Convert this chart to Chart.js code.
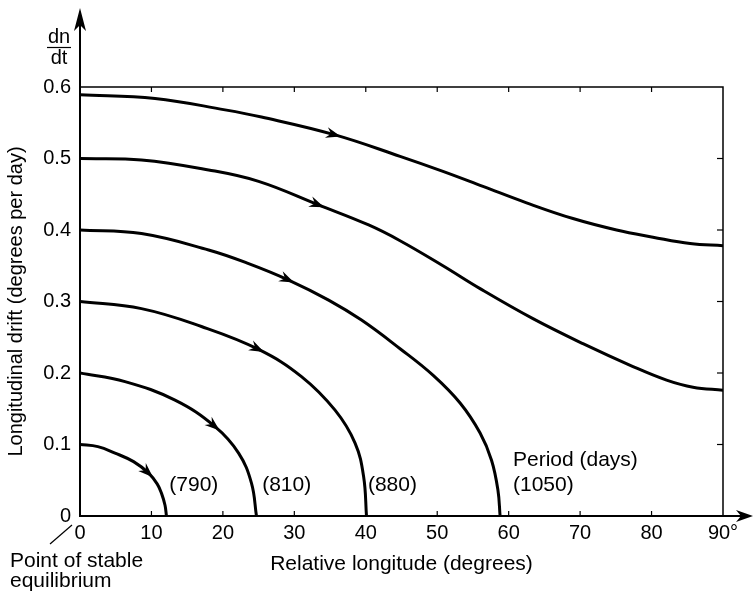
<!DOCTYPE html>
<html lang="en">
<head>
<meta charset="UTF-8">
<title>Longitudinal drift</title>
<script src="https://cdn.jsdelivr.net/npm/chart.js"></script>
<style>
  body { margin: 0; background: #fff; }
  canvas { display: block; }
</style>
</head>
<body>
<canvas id="drift" width="753" height="591"></canvas>
<script>
// --- data ---
// each curve: relative longitude (deg) and drift rate (deg/day)
const curve790x  = [0, 2.5, 4.9, 7.5, 9.6, 10.8, 11.4, 11.9, 12.1];
const curve790y  = [0.1, 0.097, 0.088, 0.076, 0.060, 0.045, 0.032, 0.015, 0];
const curve810x  = [0, 6.3, 13.3, 18.9, 22.2, 24.0, 24.7];
const curve810y  = [0.2, 0.188, 0.162, 0.125, 0.088, 0.046, 0];
const curve880x  = [0, 8.6, 17, 25, 31, 35.7, 38.5, 39.7, 40.1];
const curve880y  = [0.3, 0.29, 0.265, 0.233, 0.195, 0.148, 0.102, 0.055, 0];
const curve1050x = [0, 8.6, 18, 23.6, 29.2, 34.8, 39.4, 44.8, 49.4, 53.2, 56, 57.6, 58.5, 58.8];
const curve1050y = [0.4, 0.395, 0.372, 0.353, 0.33, 0.302, 0.274, 0.234, 0.197, 0.158, 0.116, 0.078, 0.036, 0];
const curve5x    = [0, 8.6, 18, 25, 33.4, 40.4, 44.8, 50.8, 56, 63.4, 70.4, 77.4, 82.1, 85.8, 90];
const curve5y    = [0.5, 0.498, 0.484, 0.468, 0.435, 0.407, 0.385, 0.350, 0.318, 0.276, 0.241, 0.209, 0.190, 0.180, 0.176];
const curve6x    = [0, 10.5, 20.3, 25.4, 35.7, 44.8, 50.8, 56.4, 62.5, 69, 75.1, 80.2, 85.4, 90];
const curve6y    = [0.589, 0.584, 0.568, 0.558, 0.533, 0.503, 0.482, 0.461, 0.438, 0.416, 0.40, 0.39, 0.381, 0.378];

// where the direction arrows sit on each curve (x value of a data point)
const arrowX = [9.6, 18.9, 25, 29.2, 33.4, 35.7];

const periodLabels = ['(790)', '(810)', '(880)', '(1050)'];
const xTicks = [0, 10, 20, 30, 40, 50, 60, 70, 80, 90];
const yTicks = [0, 0.1, 0.2, 0.3, 0.4, 0.5, 0.6];

const curvesX = [curve790x, curve810x, curve880x, curve1050x, curve5x, curve6x];
const curvesY = [curve790y, curve810y, curve880y, curve1050y, curve5y, curve6y];

const FONT = '"Liberation Sans", Arial, Helvetica, sans-serif';

const datasets = curvesX.map((xs, i) => ({
    data: xs.map((x, j) => ({ x: x, y: curvesY[i][j] })),
    showLine: true,
    borderColor: '#000',
    borderWidth: 3,
    pointRadius: 0,
    tension: 0.4,
    fill: false
}));

// frame, inner ticks, axis arrows, arrowheads and annotations
const decorations = {
    id: 'decorations',
    afterDatasetsDraw(chart) {
        const ctx = chart.ctx;
        const xs = chart.scales.x, ys = chart.scales.y;
        const a = chart.chartArea;
        ctx.save();
        ctx.strokeStyle = '#000';
        ctx.fillStyle = '#000';

        // top and right frame
        ctx.lineWidth = 1.5;
        ctx.beginPath();
        ctx.moveTo(a.left, a.top);
        ctx.lineTo(a.right, a.top);
        ctx.lineTo(a.right, a.bottom);
        ctx.stroke();

        // inner tick marks
        ctx.lineWidth = 1.2;
        xTicks.slice(1, -1).forEach(v => {
            const px = xs.getPixelForValue(v);
            ctx.beginPath();
            ctx.moveTo(px, a.bottom); ctx.lineTo(px, a.bottom - 5);
            ctx.moveTo(px, a.top); ctx.lineTo(px, a.top + 5);
            ctx.stroke();
        });
        yTicks.slice(1, -1).forEach(v => {
            const py = ys.getPixelForValue(v);
            ctx.beginPath();
            ctx.moveTo(a.right, py); ctx.lineTo(a.right - 6, py);
            ctx.stroke();
        });

        // axis arrows
        ctx.lineWidth = 2;
        ctx.beginPath();
        ctx.moveTo(a.left, a.top); ctx.lineTo(a.left, 22);
        ctx.moveTo(a.right, a.bottom); ctx.lineTo(742, a.bottom);
        ctx.stroke();
        ctx.beginPath();
        ctx.moveTo(a.left, 8);
        ctx.lineTo(a.left + 6, 31);
        ctx.lineTo(a.left, 25);
        ctx.lineTo(a.left - 6, 31);
        ctx.closePath();
        ctx.fill();
        ctx.beginPath();
        ctx.moveTo(753, a.bottom);
        ctx.lineTo(736, a.bottom - 6);
        ctx.lineTo(741, a.bottom);
        ctx.lineTo(736, a.bottom + 6);
        ctx.closePath();
        ctx.fill();

        // direction arrowheads on the curves
        chart.data.datasets.forEach((ds, i) => {
            const pts = chart.getDatasetMeta(i).data;
            const k = curvesX[i].indexOf(arrowX[i]);
            if (k < 1) return;
            const p = pts[k], p0 = pts[k - 1], p1 = pts[k + 1];
            let dx = p1.x - p0.x, dy = p1.y - p0.y;
            const len = Math.hypot(dx, dy);
            dx /= len; dy /= len;
            const nx = -dy, ny = dx;
            ctx.beginPath();
            ctx.moveTo(p.x + dx * 6, p.y + dy * 6);
            ctx.lineTo(p.x - dx * 9 + nx * 5.5, p.y - dy * 9 + ny * 5.5);
            ctx.lineTo(p.x - dx * 4, p.y - dy * 4);
            ctx.lineTo(p.x - dx * 9 - nx * 5.5, p.y - dy * 9 - ny * 5.5);
            ctx.closePath();
            ctx.fill();
        });

        // dn/dt
        ctx.font = '20px ' + FONT;
        ctx.textAlign = 'center';
        ctx.textBaseline = 'alphabetic';
        ctx.fillText('dn', 59, 43);
        ctx.fillText('dt', 59, 64);
        ctx.lineWidth = 1.2;
        ctx.beginPath();
        ctx.moveTo(47, 47.5); ctx.lineTo(71, 47.5);
        ctx.stroke();

        // period labels
        ctx.font = '21px ' + FONT;
        ctx.textAlign = 'left';
        const labelAt = [12.5, 25.5, 40.3, 60.6];
        periodLabels.forEach((t, i) => {
            ctx.fillText(t, xs.getPixelForValue(labelAt[i]), ys.getPixelForValue(0.035));
        });
        ctx.fillText('Period (days)', xs.getPixelForValue(60.6), ys.getPixelForValue(0.07));

        // point of stable equilibrium
        ctx.fillText('Point of stable', 10, 567);
        ctx.fillText('equilibrium', 10, 587);
        ctx.beginPath();
        ctx.moveTo(50, 544); ctx.lineTo(72, 525);
        ctx.stroke();

        ctx.restore();
    }
};

new Chart(document.getElementById('drift'), {
    type: 'scatter',
    data: { datasets: datasets },
    options: {
        responsive: false,
        animation: false,
        layout: { padding: { top: 87, right: 30, left: 0, bottom: 0 } },
        plugins: { legend: { display: false }, tooltip: { enabled: false } },
        scales: {
            x: {
                type: 'linear',
                min: 0, max: 90,
                afterFit: s => { s.height = 75; },
                afterBuildTicks: s => { s.ticks = xTicks.map(v => ({ value: v })); },
                grid: { display: false, drawTicks: false },
                border: { display: true, color: '#000', width: 2 },
                ticks: {
                    color: '#000', padding: 5, maxRotation: 0, autoSkip: false,
                    font: { family: FONT, size: 20 },
                    callback: v => v === 90 ? '90°' : String(v)
                },
                title: {
                    display: true, text: 'Relative longitude (degrees)', color: '#000',
                    font: { family: FONT, size: 21 }, padding: { top: 0, bottom: 14 }
                }
            },
            y: {
                type: 'linear',
                min: 0, max: 0.6,
                afterFit: s => { s.width = 80; },
                afterBuildTicks: s => { s.ticks = yTicks.map(v => ({ value: v })); },
                grid: { display: false, drawTicks: false },
                border: { display: true, color: '#000', width: 2 },
                ticks: {
                    color: '#000', padding: 9, autoSkip: false,
                    font: { family: FONT, size: 20 },
                    callback: v => v === 0 ? '0' : v.toFixed(1)
                },
                title: {
                    display: true, text: 'Longitudinal drift (degrees per day)', color: '#000',
                    font: { family: FONT, size: 20 }, padding: { top: 4, bottom: 0 }
                }
            }
        }
    },
    plugins: [decorations]
});
</script>
</body>
</html>
